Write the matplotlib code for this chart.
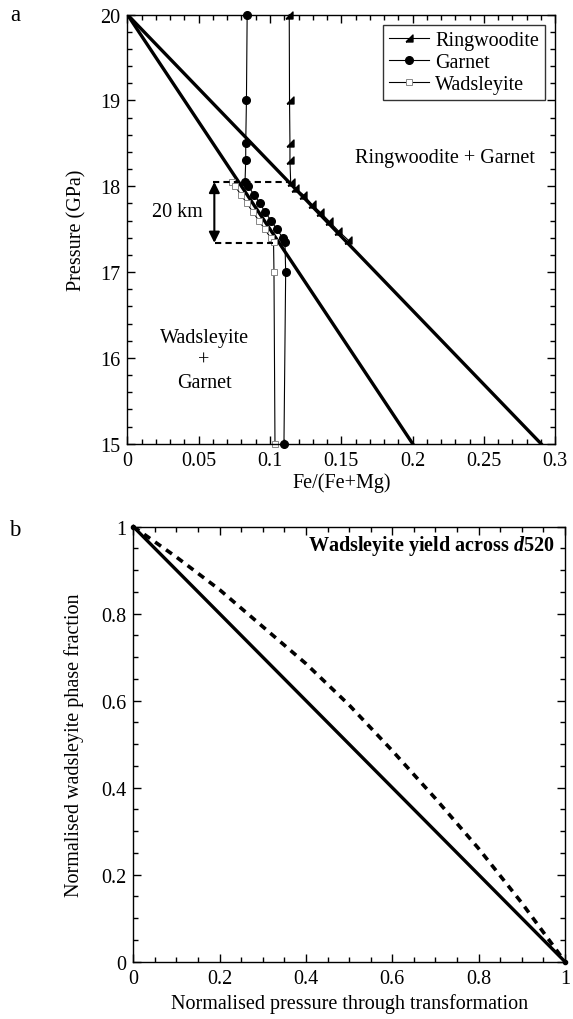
import numpy as np
import matplotlib
matplotlib.use('Agg')
import matplotlib.pyplot as plt
from matplotlib.ticker import MultipleLocator

plt.rcParams['font.family'] = ['Liberation Serif', 'DejaVu Serif']
plt.rcParams['mathtext.fontset'] = 'custom'
plt.rcParams['mathtext.it'] = 'Liberation Serif:italic:bold'
plt.rcParams['mathtext.bf'] = 'Liberation Serif:bold'

# ---------------- panel a data ----------------
# phase boundary lines (Fe/(Fe+Mg), pressure)
bound_inner_x = [0.0, 0.20]
bound_inner_p = [20.0, 15.0]
bound_outer_x = [0.0, 0.29]
bound_outer_p = [20.0, 15.0]

ring_p = [20.0, 19.0, 18.5, 18.3, 18.05, 17.98, 17.9, 17.79, 17.7, 17.59, 17.48, 17.37]
ring_x = [0.1135, 0.1137, 0.114, 0.114, 0.1145, 0.1175, 0.1234, 0.1293, 0.1351, 0.1416, 0.1479, 0.155]

garnet_p = [20.0, 19.0, 18.5, 18.3, 18.05, 18.0, 17.9, 17.8, 17.7, 17.6, 17.5, 17.4, 17.35, 17.0, 15.0]
garnet_x = [0.084, 0.0835, 0.083, 0.083, 0.0825, 0.0848, 0.0888, 0.093, 0.0965, 0.1007, 0.1047, 0.1089, 0.1105, 0.111, 0.1098]

wad_p = [18.05, 18.0, 17.9, 17.8, 17.7, 17.6, 17.5, 17.4, 17.35, 17.0, 15.0]
wad_x = [0.0735, 0.0755, 0.0797, 0.0838, 0.088, 0.0921, 0.0963, 0.1004, 0.1025, 0.1028, 0.1035]

# 20 km depth bracket
bracket_top_p = 18.05
bracket_top_x = [0.0603, 0.1147]
bracket_bot_p = 17.34
bracket_bot_x = [0.0615, 0.102]
arrow_x = 0.061

# ---------------- panel b data ----------------
lin_x = [0.0, 1.0]
lin_y = [1.0, 0.0]
yield_x = [0.0, 0.1, 0.2, 0.3, 0.4, 0.5, 0.6, 0.7, 0.8, 0.9, 1.0]
yield_y = [1.0, 0.93, 0.855, 0.77, 0.685, 0.59, 0.485, 0.375, 0.26, 0.135, 0.0]

FS = 14.5

fig = plt.figure(figsize=(5.73, 10.20), dpi=100)
ax0 = fig.add_axes([0.2222, 0.564, 0.7469, 0.4208])
ax1 = fig.add_axes([0.2326, 0.0562, 0.7534, 0.4265])

# right-angle triangle marker for ringwoodite
tri = [(-1, -1), (1, -1), (1, 1), (-1, -1)]

ax0.plot(bound_inner_x, bound_inner_p, color='black', lw=2.4)
ax0.plot(bound_outer_x, bound_outer_p, color='black', lw=2.4)
ax0.plot(ring_x, ring_p, color='black', lw=0.8, marker=tri, ms=5, label='Ringwoodite',
         clip_on=False)
ax0.plot(garnet_x, garnet_p, color='black', lw=0.8, marker='o', ms=5.5, label='Garnet',
         clip_on=False)
ax0.plot(wad_x, wad_p, color='black', lw=0.8, marker='s', ms=5, mfc='white',
         mec='#888888', mew=0.7, label='Wadsleyite', clip_on=False)

ax0.plot(bracket_top_x, [bracket_top_p] * 2, color='black', lw=1.5, ls=(0, (3, 2)))
ax0.plot(bracket_bot_x, [bracket_bot_p] * 2, color='black', lw=1.5, ls=(0, (3, 2)))
ax0.annotate('', xy=(arrow_x, bracket_bot_p), xytext=(arrow_x, bracket_top_p),
             arrowprops=dict(arrowstyle='<|-|>', color='black', lw=1.5,
                             mutation_scale=16, shrinkA=0, shrinkB=0))
ax0.text(0.0353, 17.71, '20 km', ha='center', va='center', fontsize=FS)
ax0.text(0.2227, 18.33, 'Ringwoodite + Garnet', ha='center', va='center', fontsize=FS)
ax0.text(0.0538, 15.97, 'Wadsleyite\n+\nGarnet', ha='center', va='center',
         fontsize=FS, linespacing=1.25)

ax0.set_xlim(0, 0.3)
ax0.set_ylim(15, 20)
ax0.xaxis.set_minor_locator(MultipleLocator(0.01))
ax0.yaxis.set_major_locator(MultipleLocator(1))
ax0.yaxis.set_minor_locator(MultipleLocator(0.2))
ax0.set_xticks([0, 0.05, 0.1, 0.15, 0.2, 0.25, 0.3])
ax0.set_xticklabels(['0', '0.05', '0.1', '0.15', '0.2', '0.25', '0.3'])
ax0.set_xlabel('Fe/(Fe+Mg)', fontsize=FS, labelpad=2)
ax0.set_ylabel('Pressure (GPa)', fontsize=FS, labelpad=10)
leg = ax0.legend(loc='upper right', fontsize=FS, frameon=True, fancybox=False,
                 edgecolor='black', borderpad=0.3, handlelength=2.0,
                 handletextpad=0.3, labelspacing=0.15, borderaxespad=0.5)
leg.get_frame().set_linewidth(1.0)

ax1.plot(lin_x, lin_y, color='black', lw=2.4, marker='o', ms=3, clip_on=False)
ax1.plot(yield_x, yield_y, color='black', lw=2.6, ls=(0, (2.0, 1.7)))
ax1.text(0.975, 0.958, r'Wadsleyite yield across $\mathit{d}$520', ha='right', va='center',
         fontsize=FS, fontweight='bold', transform=ax1.transAxes)
ax1.set_xlim(0, 1)
ax1.set_ylim(0, 1)
ax1.xaxis.set_minor_locator(MultipleLocator(0.05))
ax1.yaxis.set_minor_locator(MultipleLocator(0.05))
ax1.set_xticks([0, 0.2, 0.4, 0.6, 0.8, 1.0])
ax1.set_xticklabels(['0', '0.2', '0.4', '0.6', '0.8', '1'])
ax1.set_yticks([0, 0.2, 0.4, 0.6, 0.8, 1.0])
ax1.set_yticklabels(['0', '0.2', '0.4', '0.6', '0.8', '1'])
ax1.set_xlabel('Normalised pressure through transformation', fontsize=FS, labelpad=4)
ax1.set_ylabel('Normalised wadsleyite phase fraction', fontsize=FS, labelpad=12)

for ax in (ax0, ax1):
    ax.tick_params(which='both', direction='in', top=True, right=True, labelsize=FS)
    ax.tick_params(which='major', length=6, width=1.0, pad=5)
    ax.tick_params(which='minor', length=3.5, width=1.0)
    for s in ax.spines.values():
        s.set_linewidth(1.0)

fig.text(15 / 573, 1 - 16 / 1020, 'a', fontsize=FS + 2, ha='center', va='center')
fig.text(15 / 573, 1 - 530 / 1020, 'b', fontsize=FS + 2, ha='center', va='center')

fig.savefig('out.png', dpi=100)
